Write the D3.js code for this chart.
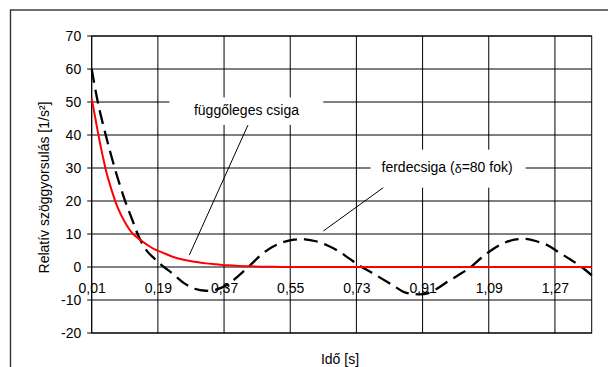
<!DOCTYPE html>
<html>
<head>
<meta charset="utf-8">
<script src="https://cdn.jsdelivr.net/npm/d3@7"></script>
<style>
  body { margin: 0; background: #fff; }
  text { font-family: "Liberation Sans", Arial, sans-serif; }
</style>
</head>
<body>
<div id="chart"></div>
<script>
// relatív szöggyorsulás - két csiga összehasonlítása

const times = [0.01, 0.02, 0.03, 0.04, 0.05, 0.06, 0.08, 0.10, 0.12, 0.14, 0.16, 0.18, 0.20,
  0.23, 0.26, 0.29, 0.32, 0.35, 0.38, 0.41, 0.44, 0.47, 0.50, 0.53, 0.56, 0.59, 0.62, 0.65,
  0.68, 0.71, 0.74, 0.77, 0.80, 0.83, 0.86, 0.89, 0.92, 0.95, 0.98, 1.01, 1.04, 1.07, 1.10,
  1.13, 1.16, 1.19, 1.22, 1.25, 1.28, 1.31, 1.34, 1.37]

// függőleges csiga (piros)
const fuggoleges = [51, 45, 39, 33.6, 28.7, 24.8, 18.2, 13.6, 10.3, 8.4, 6.8, 5.4, 4.5,
  3.1, 2.2, 1.6, 1.1, 0.8, 0.5, 0.3, 0.2, 0.1, 0.05, 0, 0, 0, 0, 0,
  0, 0, 0, 0, 0, 0, 0, 0, 0, 0, 0, 0, 0, 0, 0,
  0, 0, 0, 0, 0, 0, 0, 0, 0]

// ferdecsiga (szaggatott)
const ferde = [60, 53.7, 48.2, 43.6, 39.2, 35, 27.2, 20.3, 14.4, 8.7, 4.9, 2.6, 0.6,
  -2.0, -4.8, -6.6, -7.2, -6.8, -5.3, -2.6, 0.4, 3.6, 6.0, 7.5, 8.3, 8.4, 7.8, 6.6,
  4.9, 2.6, 0.3, -1.6, -3.6, -5.6, -7.6, -8.2, -8.1, -6.5, -4.3, -2.3, -0.1, 2.8, 5.3,
  7.2, 8.3, 8.5, 7.8, 6.6, 4.5, 2.4, 0.2, -2.5]

const xTickValues = [0.01, 0.19, 0.37, 0.55, 0.73, 0.91, 1.09, 1.27]
const xTickLabels = ["0,01", "0,19", "0,37", "0,55", "0,73", "0,91", "1,09", "1,27"]
const yTicks = [-20, -10, 0, 10, 20, 30, 40, 50, 60, 70]

const MARGIN = {LEFT: 91.7, TOP: 36, RIGHT: 16.3, BOTTOM: 34}
const SVG_W = 608, SVG_H = 367
const WIDTH = SVG_W - MARGIN.LEFT - MARGIN.RIGHT
const HEIGHT = SVG_H - MARGIN.TOP - MARGIN.BOTTOM

const svg = d3.select("#chart").append("svg")
    .attr("width", SVG_W)
    .attr("height", SVG_H)

svg.append("rect")
    .attr("width", SVG_W).attr("height", SVG_H)
    .attr("fill", "#fff")

// outer frame
svg.append("rect")
    .attr("x", 10.5).attr("y", 10)
    .attr("width", 700).attr("height", 500)
    .attr("fill", "none")
    .attr("stroke", "#333")
    .attr("stroke-width", 1.4)

const g = svg.append("g")
    .attr("transform", `translate(${MARGIN.LEFT}, ${MARGIN.TOP})`)

const x = d3.scaleLinear()
    .domain([0.01, 1.37])
    .range([0, WIDTH])

const y = d3.scaleLinear()
    .domain([-20, 70])
    .range([HEIGHT, 0])

// gridlines
g.selectAll(".hgrid")
    .data(yTicks)
    .enter().append("line")
      .attr("class", "hgrid")
      .attr("x1", -4.5).attr("x2", WIDTH)
      .attr("y1", d => y(d)).attr("y2", d => y(d))
      .attr("stroke", "#000")

g.selectAll(".vgrid")
    .data(xTickValues)
    .enter().append("line")
      .attr("class", "vgrid")
      .attr("x1", d => x(d)).attr("x2", d => x(d))
      .attr("y1", 0).attr("y2", HEIGHT)
      .attr("stroke", "#000")

g.append("rect")
    .attr("width", WIDTH).attr("height", HEIGHT)
    .attr("fill", "none")
    .attr("stroke", "#000")

// y axis
const yAxisCall = d3.axisLeft(y)
    .tickValues(yTicks)
    .tickFormat(d => String(d))
    .tickSize(0)
    .tickPadding(10.5)
g.append("g")
    .attr("class", "y axis")
    .call(yAxisCall)
    .call(a => a.select(".domain").remove())
    .selectAll("text")
      .attr("font-size", "14px")
      .attr("font-family", "Liberation Sans, Arial, sans-serif")
      .attr("fill", "#000")

// x axis (category labels at the zero line)
const xAxisCall = d3.axisBottom(x)
    .tickValues(xTickValues)
    .tickFormat((d, i) => xTickLabels[i])
    .tickSize(0)
    .tickPadding(16.4)
g.append("g")
    .attr("class", "x axis")
    .attr("transform", `translate(0, ${y(0)})`)
    .call(xAxisCall)
    .call(a => a.select(".domain").remove())
    .selectAll("text")
      .attr("font-size", "14px")
      .attr("font-family", "Liberation Sans, Arial, sans-serif")
      .attr("fill", "#000")

// series
const pts = vals => times.map((t, i) => [t, vals[i]])
const line = d3.line()
    .x(d => x(d[0]))
    .y(d => y(d[1]))
    .curve(d3.curveCatmullRom)

g.append("path")
    .datum(pts(ferde))
    .attr("d", line)
    .attr("fill", "none")
    .attr("stroke", "#000")
    .attr("stroke-width", 2.3)
    .attr("stroke-dasharray", "14,7")

g.append("path")
    .datum(pts(fuggoleges))
    .attr("d", line)
    .attr("fill", "none")
    .attr("stroke", "#ff0000")
    .attr("stroke-width", 2)

// labels with leader lines
const notes = [
  {text: "függőleges csiga", t: 0.431, v: 46.1, from: [0.435, 43.0], to: [0.2755, 3.6], pad: [24.5, 4.5, 24, 7]},
  {text: "ferdecsiga (", sym: "δ", rest: "=80 fok)", t: 0.9766, v: 28.9, from: [0.805, 24.2], to: [0.64, 10.9], pad: [11, 9, 13, 12]}
]

notes.forEach(n => {
  g.append("line")
    .attr("x1", x(n.from[0])).attr("y1", y(n.from[1]))
    .attr("x2", x(n.to[0])).attr("y2", y(n.to[1]))
    .attr("stroke", "#000")
    .attr("stroke-width", 1)
  const box = g.append("rect").attr("fill", "#fff")
  const txt = g.append("text")
    .attr("x", x(n.t)).attr("y", y(n.v))
    .attr("text-anchor", "middle")
    .attr("font-size", "14px")
    .text(n.text)
  if (n.sym) {
    txt.append("tspan").attr("font-size", "12.5px").attr("dy", 1).text(n.sym)
    txt.append("tspan").attr("dy", -1).text(n.rest)
  }
  const bb = txt.node().getBBox()
  box.attr("x", bb.x - n.pad[0]).attr("y", bb.y - n.pad[1])
     .attr("width", bb.width + n.pad[0] + n.pad[2])
     .attr("height", bb.height + n.pad[1] + n.pad[3])
})

// axis titles
svg.append("text")
    .attr("x", -187.5)
    .attr("y", 48.5)
    .attr("transform", "rotate(-90)")
    .attr("text-anchor", "middle")
    .attr("font-size", "14px")
    .text("Relatív szöggyorsulás [1/s²]")

svg.append("text")
    .attr("x", 340)
    .attr("y", 363.5)
    .attr("text-anchor", "middle")
    .attr("font-size", "14px")
    .text("Idő [s]")
</script>
</body>
</html>
